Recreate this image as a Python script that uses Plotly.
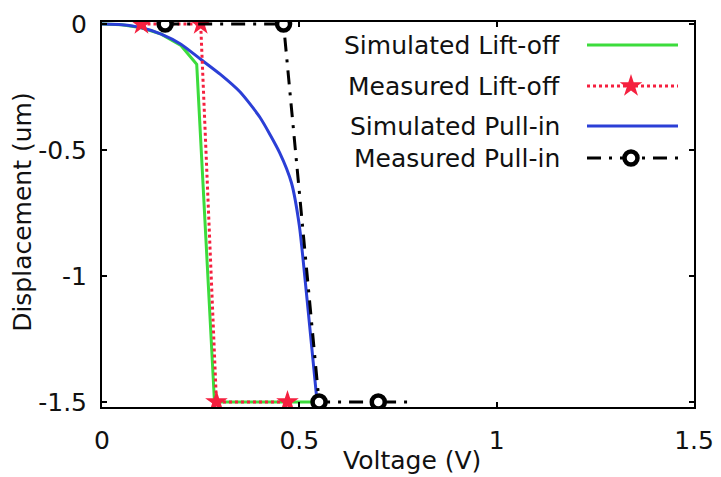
import plotly.graph_objects as go

# Simulated lift-off (green)
sim_lift_v = [0.0, 0.05, 0.10, 0.15, 0.20, 0.24, 0.285, 0.40, 0.535]
sim_lift_d = [0.0, -0.003, -0.015, -0.04, -0.085, -0.16, -1.5, -1.5, -1.5]

# Measured lift-off (red stars)
meas_lift_v = [0.10, 0.25, 0.29, 0.47]
meas_lift_d = [0.0, 0.0, -1.5, -1.5]

# Simulated pull-in (blue)
sim_pull_v = [0.0, 0.05, 0.10, 0.15, 0.20, 0.25, 0.30, 0.35, 0.40, 0.45, 0.48, 0.50, 0.52, 0.545]
sim_pull_d = [0.0, -0.003, -0.015, -0.04, -0.08, -0.14, -0.20, -0.27, -0.37, -0.51, -0.63, -0.80, -1.10, -1.5]

# Measured pull-in (black circles); the last point only extends the line
meas_pull_v = [0.16, 0.46, 0.55, 0.70, 0.78]
meas_pull_d = [0.0, 0.0, -1.5, -1.5, -1.5]
meas_pull_has_marker = [True, True, True, True, False]

x_ticks = [0, 0.5, 1, 1.5]
x_tick_text = ["0", "0.5", "1", "1.5"]
y_ticks = [0, -0.5, -1, -1.5]
y_tick_text = ["0", "-0.5", "-1", "-1.5"]

series_names = ["Simulated Lift-off", "Measured Lift-off", "Simulated Pull-in", "Measured Pull-in"]

GREEN = "#3cdc3c"
RED = "#f5203f"
BLUE = "#2b3fd6"
BLACK = "#000000"
TEXT = "#111111"
FONT = "DejaVu Sans"
DASHDOT = "14px,8px,3px,8px"
CIRCLE = dict(symbol="circle", size=13, color="white", line=dict(color=BLACK, width=4.5))
STAR = dict(symbol="star", size=17, color=RED, line=dict(width=0))

fig = go.Figure()

fig.add_trace(go.Scatter(x=sim_lift_v, y=sim_lift_d, mode="lines",
                         line=dict(color=GREEN, width=3), name=series_names[0]))
fig.add_trace(go.Scatter(x=sim_pull_v, y=sim_pull_d, mode="lines",
                         line=dict(color=BLUE, width=3, shape="spline", smoothing=0.6),
                         name=series_names[2]))
fig.add_trace(go.Scatter(x=meas_lift_v, y=meas_lift_d, mode="lines",
                         line=dict(color=RED, width=3, dash="dot"), name=series_names[1]))
fig.add_trace(go.Scatter(x=meas_lift_v, y=meas_lift_d, mode="markers",
                         marker=STAR, name=series_names[1]))
fig.add_trace(go.Scatter(x=meas_pull_v, y=meas_pull_d, mode="lines",
                         line=dict(color=BLACK, width=3, dash=DASHDOT), name=series_names[3]))
fig.add_trace(go.Scatter(x=[v for v, m in zip(meas_pull_v, meas_pull_has_marker) if m],
                         y=[d for d, m in zip(meas_pull_d, meas_pull_has_marker) if m],
                         mode="markers", marker=CIRCLE, name=series_names[3]))

# Legend drawn on an overlay axis measured in plot pixels (text left, sample right)
L_X0, L_X1 = 102, 694
L_Y0, L_Y1 = 22, 407
rows_y = [45, 86, 126, 158]
sample_x = [587, 678]
styles = [
    dict(line=dict(color=GREEN, width=3), marker=None),
    dict(line=dict(color=RED, width=3, dash="dot"), marker=STAR),
    dict(line=dict(color=BLUE, width=3), marker=None),
    dict(line=dict(color=BLACK, width=3, dash=DASHDOT), marker=CIRCLE),
]
for name, ry, st in zip(series_names, rows_y, styles):
    fig.add_trace(go.Scatter(x=sample_x, y=[ry, ry], mode="lines", line=st["line"],
                             xaxis="x2", yaxis="y2", showlegend=False, hoverinfo="skip"))
    if st["marker"] is not None:
        fig.add_trace(go.Scatter(x=[631], y=[ry], mode="markers", marker=st["marker"],
                                 xaxis="x2", yaxis="y2", showlegend=False, hoverinfo="skip"))
    fig.add_annotation(x=562, y=ry, xref="x2", yref="y2", text=name, showarrow=False,
                       xanchor="right", yanchor="middle",
                       font=dict(family=FONT, size=25, color=TEXT))

# Axis titles, placed in paper units around the plot area
fig.add_annotation(x=0.524, y=-0.138, xref="paper", yref="paper",
                   xanchor="center", yanchor="middle", text="Voltage (V)",
                   showarrow=False, font=dict(family=FONT, size=25, color=TEXT))
fig.add_annotation(x=-0.134, y=0.506, xref="paper", yref="paper",
                   xanchor="center", yanchor="middle", text="Displacement (um)",
                   showarrow=False, textangle=-90, font=dict(family=FONT, size=25, color=TEXT))

axis_common = dict(showline=True, linecolor="black", linewidth=2, mirror="ticks",
                   ticks="inside", ticklen=5, tickwidth=1.5, tickcolor="black",
                   showgrid=False, zeroline=False, automargin=False,
                   tickfont=dict(family=FONT, size=25, color=TEXT))

fig.update_layout(
    width=721, height=477,
    margin=dict(l=102, r=27, t=22, b=70, autoexpand=False),
    paper_bgcolor="white", plot_bgcolor="white",
    showlegend=False,
    xaxis=dict(range=[0, 1.5], tickvals=x_ticks, ticktext=x_tick_text,
               ticklabelstandoff=10, **axis_common),
    yaxis=dict(range=[-1.52, 0.008], tickvals=y_ticks, ticktext=y_tick_text,
               ticklabelstandoff=8, **axis_common),
    xaxis2=dict(domain=[0, 1], range=[L_X0, L_X1], overlaying="x", visible=False,
                anchor="y2", fixedrange=True),
    yaxis2=dict(domain=[0, 1], range=[L_Y1, L_Y0], overlaying="y", visible=False,
                anchor="x2", fixedrange=True),
)

fig.write_html("out.html")
